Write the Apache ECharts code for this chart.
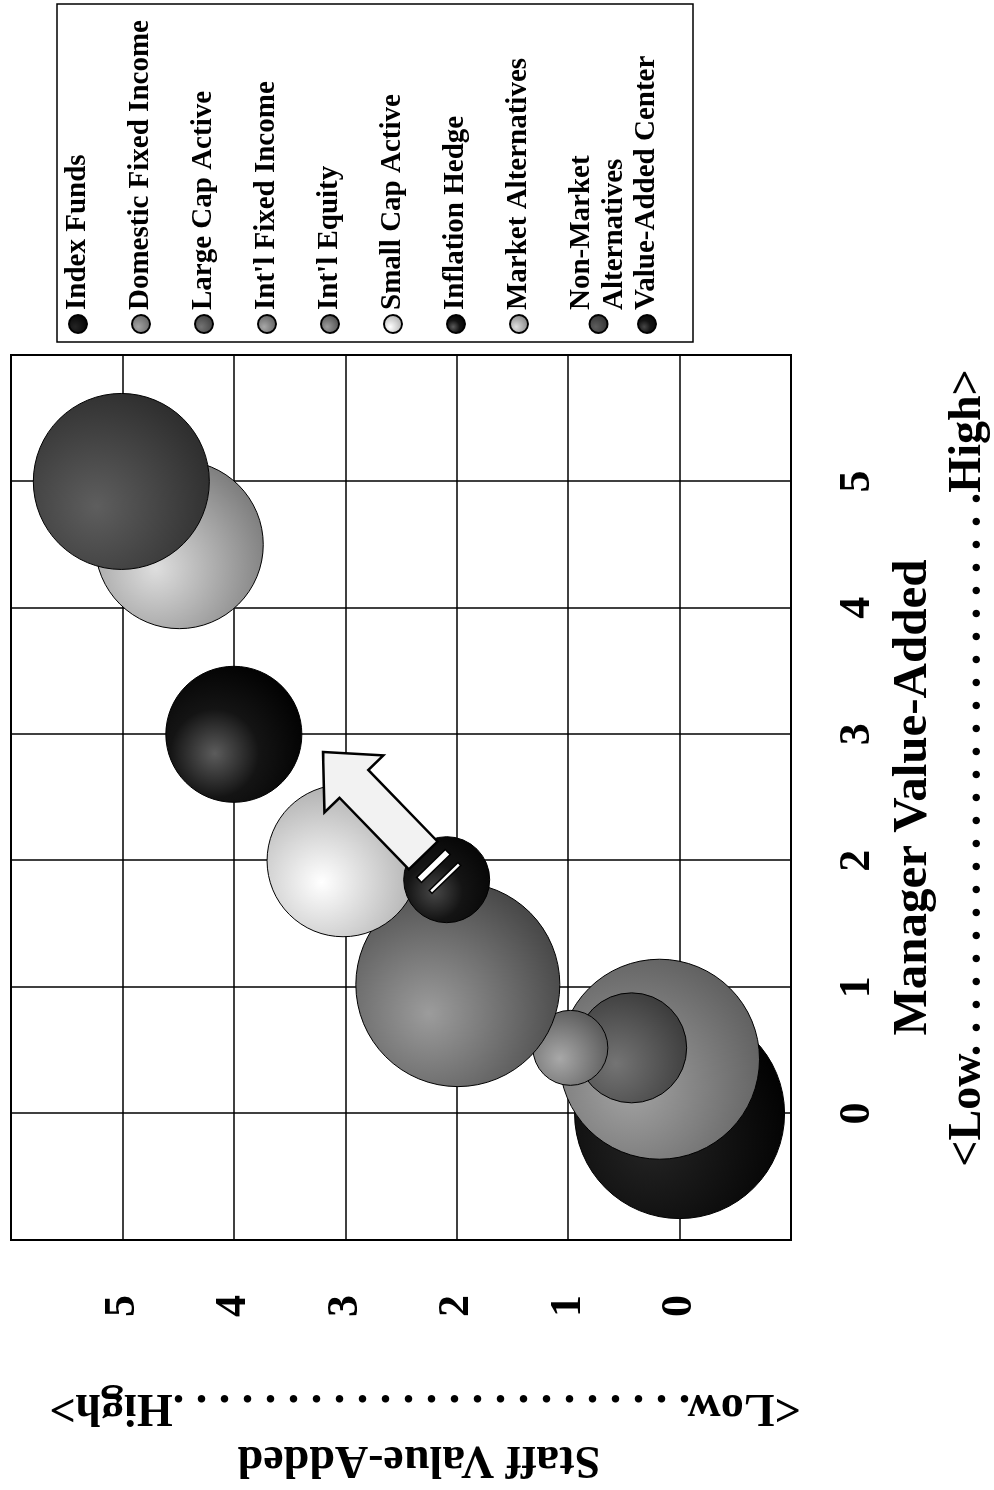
<!DOCTYPE html>
<html>
<head>
<meta charset="utf-8">
<title>Staff Value-Added vs Manager Value-Added</title>
<script src="https://cdn.jsdelivr.net/npm/echarts@6/dist/echarts.min.js"></script>
<style>
  html, body { margin: 0; padding: 0; background: #fff; overflow: hidden; }
  #page { position: relative; width: 994px; height: 1490px; overflow: hidden; }
  /* the chart is built landscape and turned a quarter turn to the left, as on the printed page */
  #chart { position: absolute; left: 0; top: 0; width: 1490px; height: 994px;
           transform-origin: 0 0; transform: translate(0, 1490px) rotate(-90deg); }
</style>
</head>
<body>
<div id="page"><div id="chart"></div></div>
<script>
// data
var seriesNames = ['Index Funds', 'Domestic Fixed Income', 'Large Cap Active', "Int'l Fixed Income",
    "Int'l Equity", 'Small Cap Active', 'Inflation Hedge', 'Market Alternatives',
    'Non-Market Alternatives', 'Value-Added Center'];
var managerValue = [0, 0.43, 0.52, 0.52, 1.02, 2.0, 3.0, 4.5, 5.0, 1.85];
var staffValue = [0, 0.18, 0.43, 0.98, 1.99, 3.02, 4.0, 4.49, 5.01, 2.09];
var bubbleSize = [21, 20, 11, 7.5, 20.4, 15.2, 13.6, 16.8, 17.6, 8.6];
var managerTicks = [0, 1, 2, 3, 4, 5];
var staffTicks = [0, 1, 2, 3, 4, 5];
// arrow from the Value-Added Center towards higher value-added
var arrowFrom = [1.85, 2.09];
var arrowTo = [2.86, 3.2];

var font = '"Liberation Serif", "Times New Roman", serif';

// [highlight, rim] greys for each bubble
var shades = [
    ['#242424', '#000000'],
    ['#a3a3a3', '#5e5e5e'],
    ['#747474', '#3a3a3a'],
    ['#a8a8a8', '#575757'],
    ['#9c9c9c', '#444444'],
    ['#ffffff', '#a6a6a6'],
    ['#5c5c5c', '#000000'],
    ['#dedede', '#7a7a7a'],
    ['#5e5e5e', '#2c2c2c'],
    ['#474747', '#050505']
];

function shade(i) {
    var stops = [{offset: 0, color: shades[i][0]}, {offset: 1, color: shades[i][1]}];
    if (i === 6 || i === 9) {
        stops = [{offset: 0, color: shades[i][0]}, {offset: 0.45, color: '#141414'}, {offset: 1, color: shades[i][1]}];
    }
    return new echarts.graphic.RadialGradient(0.36, 0.36, 0.72, stops);
}

function dots(n) {
    var s = [];
    for (var i = 0; i < n; i++) s.push('.');
    return s.join(' ');
}

function renderArrow(params, api) {
    var a = api.coord([api.value(0), api.value(1)]);
    var b = api.coord([api.value(2), api.value(3)]);
    var dx = a[0] - b[0], dy = a[1] - b[1];
    var len = Math.sqrt(dx * dx + dy * dy);
    var ux = dx / len, uy = dy / len, nx = -uy, ny = ux;
    function at(f, w) { return [b[0] + ux * len * f + nx * w, b[1] + uy * len * f + ny * w]; }
    function stripe(f0, f1) { return [at(f0, 20), at(f1, 20), at(f1, -20), at(f0, -20)]; }
    var head = 0.25, shaft = 0.81;
    var body = [at(0, 0), at(head, 41), at(head, 20), at(shaft, 20), at(shaft, -20), at(head, -20), at(head, -41)];
    return {
        type: 'group',
        children: [
            {type: 'polygon', shape: {points: body}, style: {fill: '#f2f2f2', stroke: '#000', lineWidth: 2.5}},
            {type: 'polygon', shape: {points: stripe(0.873, 0.912)}, style: {fill: '#fff', stroke: '#000', lineWidth: 1.5}},
            {type: 'polygon', shape: {points: stripe(0.975, 0.998)}, style: {fill: '#fff', stroke: '#000', lineWidth: 1.5}}
        ]
    };
}

var series = seriesNames.map(function (name, i) {
    return {
        name: name,
        type: 'scatter',
        data: [[managerValue[i], staffValue[i], bubbleSize[i]]],
        symbolSize: function (d) { return d[2] * 10; },
        itemStyle: {color: shade(i), borderColor: '#000', borderWidth: 1, opacity: 1},
        emphasis: {disabled: true},
        z: 2
    };
});
series.push({
    type: 'custom',
    name: 'arrow',
    data: [[arrowFrom[0], arrowFrom[1], arrowTo[0], arrowTo[1]]],
    encode: {x: [0, 2], y: [1, 3]},
    renderItem: renderArrow,
    z: 5
});

var legendText = {fontFamily: font, fontWeight: 'bold', fontSize: 29, lineHeight: 33, color: '#000'};

var chart = echarts.init(document.getElementById('chart'), null, {renderer: 'canvas'});
chart.setOption({
    animation: false,
    backgroundColor: '#fff',
    grid: {left: 243, top: 11, width: 892, height: 780, show: true, borderColor: '#000', borderWidth: 2},
    legend: [{
        orient: 'vertical', left: 1156, top: 61.5, padding: 0, itemGap: 30,
        itemWidth: 18, itemHeight: 18, icon: 'circle', selectedMode: false,
        data: seriesNames.slice(0, 9),
        formatter: function (n) { return n === 'Non-Market Alternatives' ? 'Non-Market\nAlternatives' : n; },
        textStyle: legendText
    }, {
        orient: 'vertical', left: 1156, top: 630.5, padding: 0,
        itemWidth: 18, itemHeight: 18, icon: 'circle', selectedMode: false,
        data: seriesNames.slice(9),
        textStyle: legendText
    }],
    xAxis: {
        type: 'value', min: -1, max: 6, interval: 1,
        axisLine: {show: false}, axisTick: {show: false},
        splitLine: {lineStyle: {color: '#000', width: 1.5}},
        axisLabel: {
            margin: 45, fontSize: 44, lineHeight: 44, fontWeight: 'bold', fontFamily: font, color: '#000',
            formatter: function (v) { return managerTicks.indexOf(v) >= 0 ? String(v) : ''; }
        },
        name: 'Manager Value-Added', nameLocation: 'middle', nameGap: 98,
        nameTextStyle: {fontFamily: font, fontWeight: 'bold', fontSize: 49, lineHeight: 48, color: '#000'}
    },
    yAxis: {
        type: 'value', min: -1, max: 6, interval: 1,
        axisLine: {show: false}, axisTick: {show: false},
        splitLine: {lineStyle: {color: '#000', width: 1.5}},
        axisLabel: {
            margin: 55, fontSize: 44, lineHeight: 44, fontWeight: 'bold', fontFamily: font, color: '#000',
            formatter: function (v) { return staffTicks.indexOf(v) >= 0 ? String(v) : ''; }
        },
        name: 'Staff Value-Added', nameLocation: 'middle', nameGap: 196, nameRotate: 90,
        nameTextStyle: {fontFamily: font, fontWeight: 'bold', fontSize: 46, lineHeight: 46, color: '#000', padding: [0, 36, 0, 0]}
    },
    graphic: [
        {type: 'rect', shape: {x: 1148, y: 57, width: 338, height: 636}, style: {fill: 'none', stroke: '#000', lineWidth: 1.5}},
        {type: 'text', x: 722, y: 968, style: {text: '<Low' + dots(25) + 'High>', fontFamily: font, fontWeight: 'bold', fontSize: 46, fill: '#000', align: 'center', verticalAlign: 'middle'}},
        {type: 'text', x: 83, y: 425, rotation: Math.PI / 2, style: {text: '<Low' + dots(23) + 'High>', fontFamily: font, fontWeight: 'bold', fontSize: 46, fill: '#000', align: 'center', verticalAlign: 'middle'}}
    ],
    series: series
});
</script>
</body>
</html>
